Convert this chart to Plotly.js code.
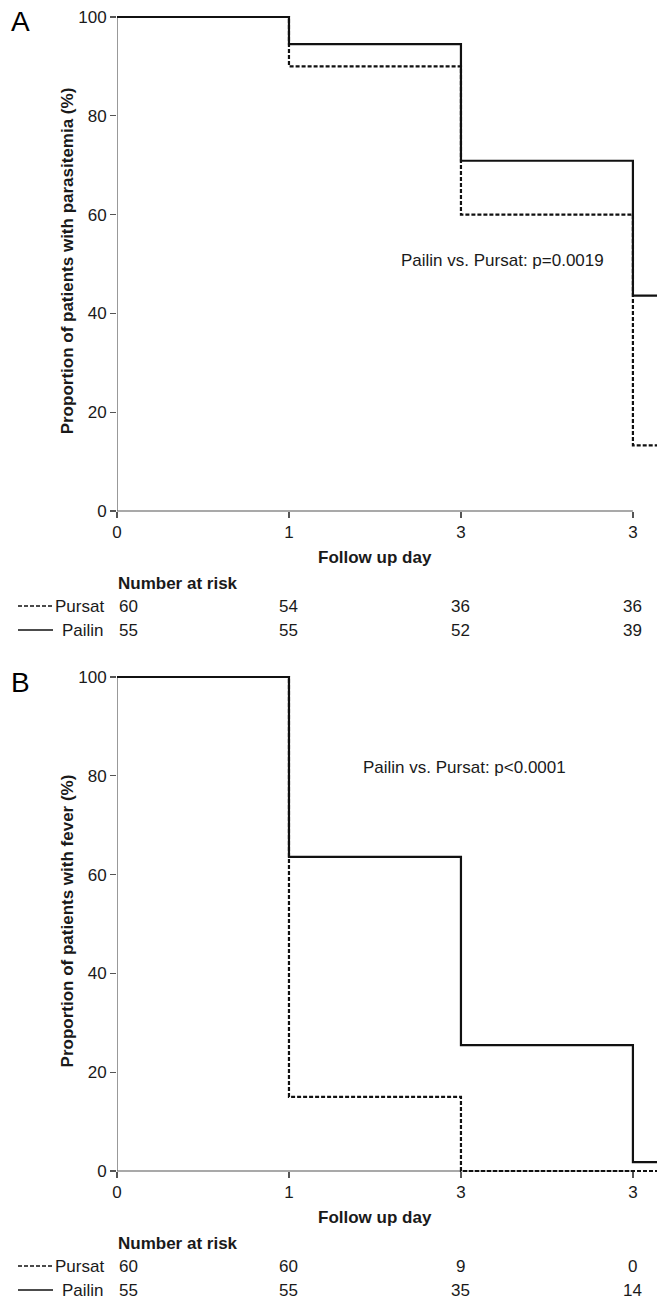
<!DOCTYPE html>
<html>
<head>
<meta charset="utf-8">
<script src="https://cdn.plot.ly/plotly-3.0.1.min.js"></script>
<style>html,body{margin:0;padding:0;background:#fff;}#chart{width:657px;height:1299px;}</style>
</head>
<body>
<div id="chart"></div>
<script>
// ---- data ----
var dayPositions = [0, 1, 2, 3];
var dayTickText = ["0", "1", "3", "3"];
var curveX = [0, 1, 2, 3, 3.3];          // last point = end of follow-up (beyond view)
var yTicks = [0, 20, 40, 60, 80, 100];

var parasitemiaPursat = [100, 90, 60, 13.3, 13.3];
var parasitemiaPailin = [100, 94.5, 70.9, 43.6, 43.6];
var feverPursat = [100, 15, 0, 0, 0];
var feverPailin = [100, 63.6, 25.5, 1.8, 1.8];

var riskPursatA = [60, 54, 36, 36];
var riskPailinA = [55, 55, 52, 39];
var riskPursatB = [60, 60, 9, 0];
var riskPailinB = [55, 55, 35, 14];

var pTextA = "Pailin vs. Pursat: p=0.0019";
var pTextB = "Pailin vs. Pursat: p<0.0001";
var yTitleA = "Proportion of patients with parasitemia (%)";
var yTitleB = "Proportion of patients with fever (%)";

// ---- layout helpers ----
var H = 1299, W = 657;
function py(p) { return 1 - p / H; }
function px(p) { return p / W; }
var FONT = "Liberation Sans, Arial, Helvetica, sans-serif";
var FS = 17;
var TXT = "#1a1a1a";
var AX = "#555";
var DASH = "4px,2px";

var traces = [];
var annotations = [];
var shapes = [];

function ann(o) {
  o.showarrow = false;
  if (!o.yanchor) o.yanchor = "middle";
  if (!o.xanchor) o.xanchor = "center";
  annotations.push(o);
}

function panel(idx, pursat, pailin, riskP, riskL, pText, pX, pY, letter, top0, bot0) {
  var xa = idx === 1 ? "x" : "x2";
  var ya = idx === 1 ? "y" : "y2";
  traces.push({x: curveX, y: pursat, xaxis: xa, yaxis: ya, type: "scatter", mode: "lines",
    line: {shape: "hv", color: "#111", width: 2.2, dash: DASH}, name: "Pursat", hoverinfo: "skip"});
  traces.push({x: curveX, y: pailin, xaxis: xa, yaxis: ya, type: "scatter", mode: "lines",
    line: {shape: "hv", color: "#111", width: 2.2}, name: "Pailin", hoverinfo: "skip"});
  // axis lines
  shapes.push({type: "line", xref: xa, yref: ya, x0: dayPositions[0], x1: dayPositions[dayPositions.length - 1], y0: 0, y1: 0,
    line: {color: AX, width: 1.2}, layer: "below"});
  shapes.push({type: "line", xref: xa, yref: ya, x0: 0, x1: 0, y0: 0, y1: yTicks[yTicks.length - 1],
    line: {color: AX, width: 1.2}, layer: "below"});
  ann({xref: xa, yref: ya, x: pX, y: pY, text: pText, font: {family: FONT, size: FS, color: TXT}});
  // x title
  ann({xref: xa, yref: "paper", x: 1.5, y: py(bot0 + 46), text: "Follow up day",
    font: {family: FONT, size: FS, color: TXT, weight: "bold"}});
  // number at risk
  ann({xref: "paper", yref: "paper", x: px(116), xanchor: "left", y: py(bot0 + 72), text: "Number at risk",
    font: {family: FONT, size: FS, color: TXT, weight: "bold"}});
  var rowY = [bot0 + 95, bot0 + 119];
  var rows = [riskP, riskL];
  var names = ["Pursat", "Pailin"];
  for (var r = 0; r < 2; r++) {
    ann({xref: "paper", yref: "paper", x: px(106), xanchor: "right", y: py(rowY[r]), text: names[r],
      font: {family: FONT, size: FS, color: TXT}});
    shapes.push({type: "line", xref: "paper", yref: "paper", x0: px(18), x1: px(53), y0: py(rowY[r]), y1: py(rowY[r]),
      line: {color: "#111", width: 1.6, dash: r === 0 ? DASH : "solid"}});
    for (var k = 0; k < dayPositions.length; k++) {
      ann({xref: xa, yref: "paper", x: dayPositions[k], xanchor: k === 0 ? "left" : "center",
        y: py(rowY[r]), text: String(rows[r][k]), font: {family: FONT, size: FS, color: TXT}});
    }
  }
  ann({xref: "paper", yref: "paper", x: px(20), y: py(top0 + 5), text: letter,
    font: {family: FONT, size: 28, color: "#000"}});
}

panel(1, parasitemiaPursat, parasitemiaPailin, riskPursatA, riskPailinA, pTextA, 2.24, 50.8, "A", 17, 511);
panel(2, feverPursat, feverPailin, riskPursatB, riskPailinB, pTextB, 2.02, 81.6, "B", 677, 1171);

var u = 494 / 100; // px per unit
var YMIN = -0.8;
function xaxisDef(zeroPx) {
  return {domain: [px(117), 1], range: [0, 3.14], anchor: "free", position: py(zeroPx), showgrid: false, zeroline: false, showline: false,
    tickmode: "array", tickvals: dayPositions, ticktext: dayTickText, ticks: "outside", ticklen: 6, tickwidth: 1.2,
    tickcolor: AX, tickfont: {family: FONT, size: FS, color: TXT}, fixedrange: true};
}
function yaxisDef(anchor, zeroPx, hundredPx, title) {
  return {domain: [py(zeroPx - YMIN * u), py(hundredPx - 2 * u)], range: [YMIN, 102], anchor: anchor,
    showgrid: false, zeroline: false, showline: false,
    tickmode: "array", tickvals: yTicks, ticks: "outside", ticklen: 6, tickwidth: 1.2, tickcolor: AX,
    tickfont: {family: FONT, size: FS, color: TXT},
    title: {text: title, standoff: 0, font: {family: FONT, size: FS, color: TXT, weight: "bold"}}, fixedrange: true};
}
var layout = {
  width: W, height: H, margin: {l: 0, r: 0, t: 0, b: 0}, paper_bgcolor: "#fff", plot_bgcolor: "#fff",
  showlegend: false,
  xaxis: xaxisDef(511),
  yaxis: yaxisDef("x", 511, 17, yTitleA),
  xaxis2: xaxisDef(1171),
  yaxis2: yaxisDef("x2", 1171, 677, yTitleB),
  annotations: annotations,
  shapes: shapes
};
Plotly.newPlot("chart", traces, layout, {displayModeBar: false, staticPlot: true});
</script>
</body>
</html>
